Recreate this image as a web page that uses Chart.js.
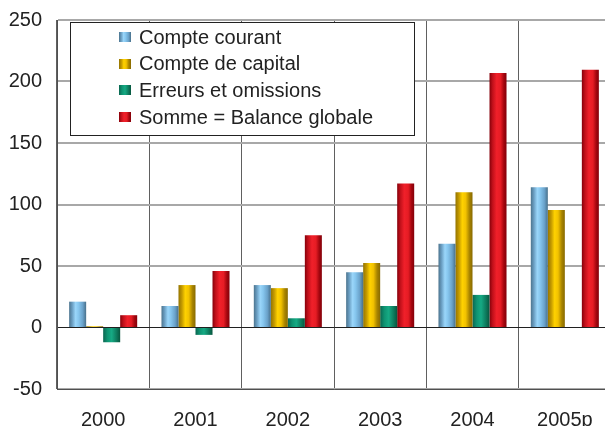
<!DOCTYPE html>
<html>
<head>
<meta charset="utf-8">
<script src="https://cdn.jsdelivr.net/npm/chart.js@4/dist/chart.umd.min.js"></script>
<style>
  html, body { margin: 0; padding: 0; overflow: hidden; background: #fff; }
  #wrap { width: 614px; height: 426px; }
</style>
</head>
<body>
<div id="wrap"><canvas id="chart" width="614" height="426"></canvas></div>
<script>
// Data
const years = ['2000', '2001', '2002', '2003', '2004', '2005p'];
const compteCourant = [21, 17.5, 34.5, 45, 68, 114];
const compteCapital = [1, 34.5, 32, 52.5, 110, 95.5];
const erreursOmissions = [-12, -6, 7.5, 17.5, 26.5, null];
const balanceGlobale = [10, 46, 75, 117, 207, 209.5];
const yTicks = [-50, 0, 50, 100, 150, 200, 250];

// Cylinder shading, left to right
const shades = [
  [[0, '#4c748e'], [0.18, '#6a9ec2'], [0.38, '#9ad6fa'], [0.55, '#86c6ee'], [0.8, '#6aa2ca'], [1, '#48708a']],
  [[0, '#947400'], [0.2, '#c49a00'], [0.4, '#ffd200'], [0.6, '#f2c200'], [0.82, '#a88400'], [1, '#886a00']],
  [[0, '#0a6650'], [0.25, '#0f9472'], [0.5, '#16aa84'], [0.78, '#0e7c5e'], [1, '#07563e']],
  [[0, '#86000a'], [0.18, '#c0101a'], [0.42, '#f0202a'], [0.65, '#e61c24'], [0.85, '#a2060e'], [1, '#84000a']]
];
const FONT = "'Liberation Sans', Arial, sans-serif";

function makeGrad(ctx, x0, x1, stops) {
  const g = ctx.createLinearGradient(x0, 0, x1, 0);
  stops.forEach(s => g.addColorStop(s[0], s[1]));
  return g;
}

// apply the horizontal gradient to every bar
const barShade = {
  id: 'barShade',
  beforeDatasetsDraw(chart) {
    chart.data.datasets.forEach((ds, d) => {
      chart.getDatasetMeta(d).data.forEach(el => {
        const p = el.getProps(['x', 'width'], true);
        const g = makeGrad(chart.ctx, p.x - p.width / 2, p.x + p.width / 2, shades[d]);
        el.options = Object.assign({}, el.options, { backgroundColor: g });
      });
    });
  }
};

// boxed legend inside the plot
const legendBox = {
  id: 'legendBox',
  afterDraw(chart) {
    const ctx = chart.ctx;
    ctx.save();
    ctx.fillStyle = '#ffffff';
    ctx.fillRect(70.5, 22.5, 344, 113);
    ctx.strokeStyle = '#222';
    ctx.lineWidth = 1;
    ctx.strokeRect(70.5, 22.5, 344, 113);
    ctx.font = '20px ' + FONT;
    ctx.textBaseline = 'middle';
    chart.data.datasets.forEach((ds, i) => {
      const y = 37 + i * 26.7;
      ctx.fillStyle = makeGrad(ctx, 119, 131, shades[i]);
      ctx.fillRect(119, Math.round(y - 5), 12, 10);
      ctx.fillStyle = '#222';
      ctx.fillText(ds.label, 139, y + 1);
    });
    ctx.restore();
  }
};

const mkSet = (label, data, i) => ({
  label, data,
  backgroundColor: shades[i][2][1],
  borderWidth: 0,
  categoryPercentage: 0.737,
  barPercentage: 1
});

new Chart(document.getElementById('chart'), {
  type: 'bar',
  data: {
    labels: years,
    datasets: [
      mkSet('Compte courant', compteCourant, 0),
      mkSet('Compte de capital', compteCapital, 1),
      mkSet('Erreurs et omissions', erreursOmissions, 2),
      mkSet('Somme = Balance globale', balanceGlobale, 3)
    ]
  },
  options: {
    responsive: false,
    animation: false,
    layout: { padding: { top: 20, right: 3, left: 0, bottom: 0 } },
    plugins: { legend: { display: false }, tooltip: { enabled: false } },
    scales: {
      x: {
        afterFit(s) { s.height = 37; s.paddingLeft = 0; s.paddingRight = 0; },
        grid: { color: '#606060', lineWidth: 1, drawTicks: false, offset: true },
        border: { color: '#505050', width: 1 },
        ticks: { color: '#222', font: { family: FONT, size: 20 }, padding: 19 }
      },
      y: {
        min: -50, max: 250,
        afterFit(s) { s.width = 57; s.paddingTop = 0; s.paddingBottom = 0; },
        afterBuildTicks(s) { s.ticks = yTicks.map(v => ({ value: v })); },
        grid: {
          drawTicks: false,
          color: c => c.tick && c.tick.value === 0 ? '#202020' : '#a8a8a8',
          lineWidth: c => c.tick && c.tick.value === 0 ? 1 : 2
        },
        border: { color: '#505050', width: 1 },
        ticks: { color: '#222', font: { family: FONT, size: 20 }, padding: 15 }
      }
    }
  },
  plugins: [barShade, legendBox]
});
</script>
</body>
</html>
